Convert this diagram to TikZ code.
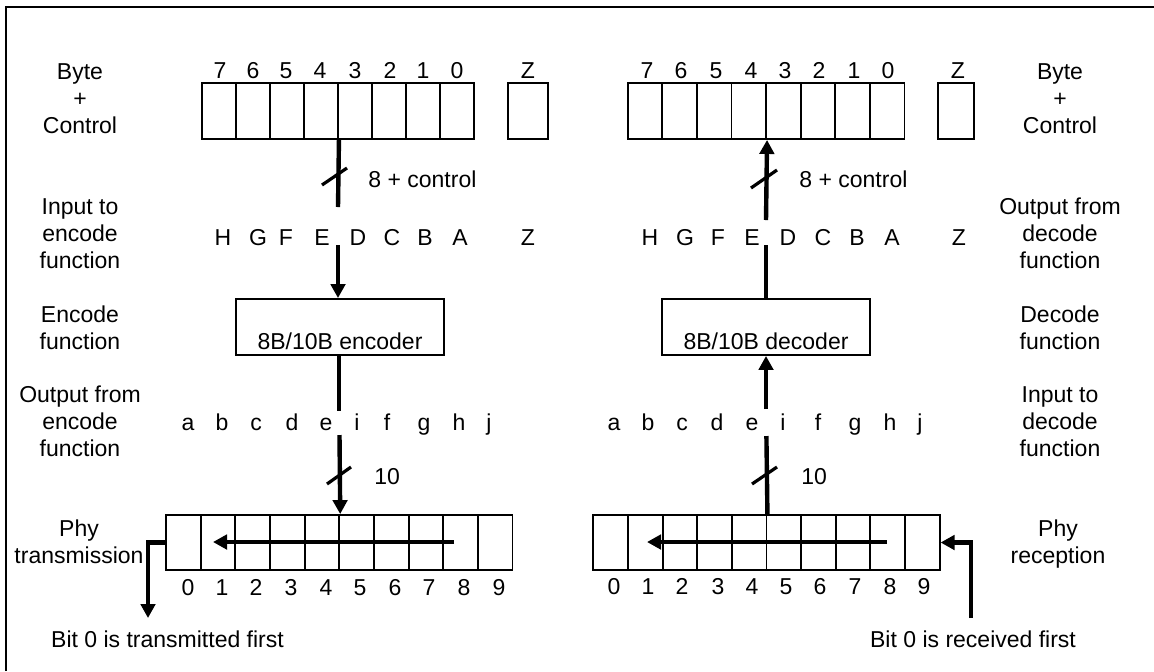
\documentclass[tikz,border=0pt]{standalone}
\usepackage{fontspec}
\setmainfont{Liberation Sans}
\usetikzlibrary{arrows.meta}
\newcommand\diagfont{\fontsize{11.5pt}{13.4pt}\selectfont}
\begin{document}
\begin{tikzpicture}[x=0.5pt,y=-0.5pt,
  every node/.style={font=\diagfont, inner sep=0pt},
  cellbox/.style={draw, line width=0.95pt, minimum height=28pt},
  phycell/.style={draw, line width=0.95pt, minimum width=17.33pt, minimum height=27.5pt},
  funcbox/.style={draw, line width=0.95pt, minimum width=104pt, text height=25pt, text depth=3pt},
  sidelabel/.style={align=center},
  bus/.style={line width=2.2pt},
  arr/.style={line width=2.2pt, -{Triangle[length=7pt,width=7.2pt]}},
  slashmark/.style={line width=1.6pt}]
\useasboundingbox (0,0) rectangle (1154,671);
% frame (only top and left edges visible)
\draw[line width=1.1pt] (6,671) -- (6,7) -- (1154,7);

% ---------------- left side ----------------
\foreach \i in {1,...,8}
  \node[cellbox, minimum width=17pt] (tlc\i) at ({219+34*(\i-1)},111) {};
\node[cellbox, minimum width=20pt] (tlz) at (528,111) {};
\foreach \x/\t [count=\k] in {220/7,253/6,286/5,320/4,355/3,390/2,423/1,457/0,528/Z}
  \node[anchor=base] (tld\k) at (\x,78) {\t};
\foreach \x/\t [count=\k] in {223/H,258/G,286/F,322/E,358/D,392/C,425/B,460/A,528/Z}
  \node[anchor=base] (tll\k) at (\x,245) {\t};
\node[funcbox] (enc) at (340,327) {8B/10B encoder};
\foreach \x/\t [count=\k] in {188/a,222/b,256/c,292/d,326/e,357/i,387/f,424/g,459/h,489/j}
  \node[anchor=base] (bll\k) at (\x,430) {\t};
\foreach \i in {1,...,10}
  \node[phycell] (blc\i) at ({166+17.33+34.65*(\i-1)},542.5) {};
\foreach \x/\t [count=\k] in {188/0,222/1,256/2,291/3,326/4,360/5,395/6,429/7,464/8,499/9}
  \node[anchor=base] (bld\k) at (\x,595) {\t};

\node[sidelabel] (lbl1) at (80,98.5) {Byte\\+\\Control};
\node[sidelabel] (lbl2) at (80,233.5) {Input to\\encode\\function};
\node[sidelabel] (lbl3) at (80,328) {Encode\\function};
\node[sidelabel] (lbl4) at (80,421.5) {Output from\\encode\\function};
\node[sidelabel] (lbl5) at (79,542) {Phy\\transmission};
\node[anchor=base west] (lctl) at (368,187) {8 + control};
\node[anchor=base west] (lten) at (374,484) {10};
\node[anchor=base] (lfirst) at (167.5,647) {Bit 0 is transmitted first};

\coordinate (lA) at (338,207);
\coordinate (lB) at (338,245);
\coordinate (lC) at (339,411);
\coordinate (lD) at (339.5,435);
\coordinate (lE) at (454,542);
\coordinate (lF) at (213,542);
\coordinate (lG) at (148,542.5);
\coordinate (lH) at (148,618);
\draw[bus] (tlc4.south east) -- (lA);
\draw[slashmark] (322,185) -- (347,168);
\draw[arr] (lB) -- (lB |- enc.north);
\draw[bus] (lC |- enc.south) -- (lC);
\draw[arr] (lD) -- (blc5.north east);
\draw[slashmark] (327,484) -- (351,467);
\draw[arr] (lE) -- (lF);
\draw[arr] (blc1.west) -- (lG) -- (lH);

% ---------------- right side ----------------
\foreach \i in {1,...,8}
  \node[cellbox, minimum width=17.3pt] (trc\i) at ({627.7+17.3+34.6*(\i-1)},111) {};
\node[cellbox, minimum width=18pt] (trz) at (956,111) {};
\foreach \x/\t [count=\k] in {647/7,681/6,716/5,751/4,785/3,819/2,854/1,888/0,958/Z}
  \node[anchor=base] (trd\k) at (\x,78) {\t};
\foreach \x/\t [count=\k] in {650/H,685/G,718/F,752/E,788/D,823/C,857/B,892/A,959/Z}
  \node[anchor=base] (trl\k) at (\x,245) {\t};
\node[funcbox] (dec) at (766,327) {8B/10B decoder};
\foreach \x/\t [count=\k] in {614/a,648/b,682/c,717/d,752/e,783/i,818/f,855/g,890/h,920/j}
  \node[anchor=base] (brl\k) at (\x,430) {\t};
\foreach \i in {1,...,10}
  \node[phycell] (brc\i) at ({593.3+17.33+34.63*(\i-1)},542.5) {};
\foreach \x/\t [count=\k] in {614/0,648/1,682/2,718/3,752/4,786/5,820/6,855/7,890/8,924/9}
  \node[anchor=base] (brd\k) at (\x,594) {\t};

\node[sidelabel] (rbl1) at (1060,98.5) {Byte\\+\\Control};
\node[sidelabel] (rbl2) at (1060,233.5) {Output from\\decode\\function};
\node[sidelabel] (rbl3) at (1060,328) {Decode\\function};
\node[sidelabel] (rbl4) at (1060,421.5) {Input to\\decode\\function};
\node[sidelabel] (rbl5) at (1058,544) {Phy\\reception};
\node[anchor=base west] (rctl) at (799,187) {8 + control};
\node[anchor=base west] (rten) at (801,484) {10};
\node[anchor=base] (rfirst) at (973,647) {Bit 0 is received first};

\coordinate (rA) at (766,220);
\coordinate (rB) at (766,245);
\coordinate (rC) at (766,409);
\coordinate (rD) at (766.4,436);
\coordinate (rE) at (887,542);
\coordinate (rF) at (647,542);
\coordinate (rG) at (971,618);
\coordinate (rH) at (971,542.5);
\draw[arr] (rA) -- (trc4.south east);
\draw[slashmark] (751,188) -- (777,170);
\draw[bus] (rB |- dec.north) -- (rB);
\draw[arr] (rC) -- (rC |- dec.south);
\draw[bus] (brc5.north east) -- (rD);
\draw[slashmark] (752,484) -- (777,467);
\draw[arr] (rE) -- (rF);
\draw[arr] (rG) -- (rH) -- (brc10.east);
\end{tikzpicture}
\end{document}
